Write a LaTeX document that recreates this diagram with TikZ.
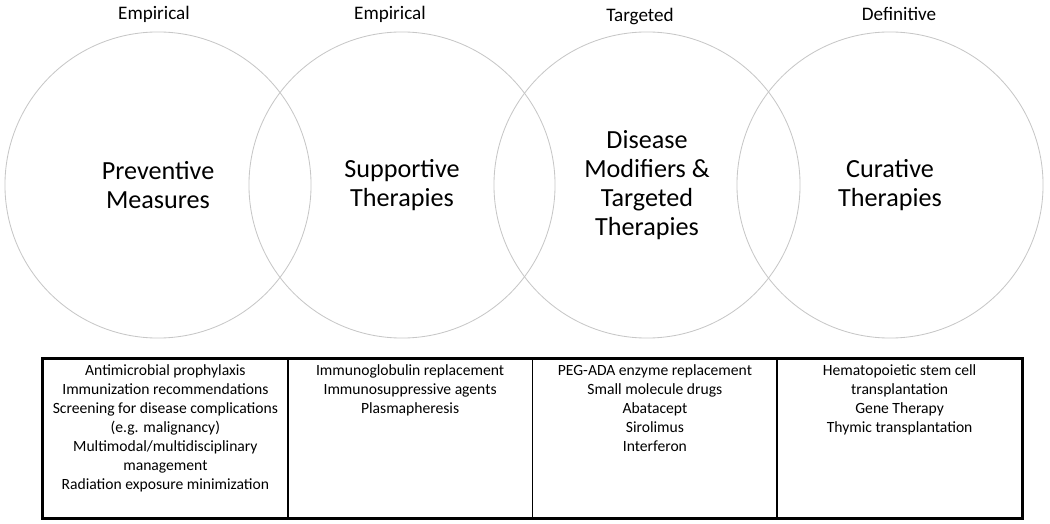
\documentclass[tikz,border=0pt]{standalone}
\usepackage{fontspec}
\setmainfont{Carlito}
\usetikzlibrary{positioning}

\begin{document}
\begin{tikzpicture}[x=0.025cm,y=-0.025cm,
    bubble/.style={circle,draw=black!22,line width=0.6pt,minimum size=7.65cm,inner sep=0pt,align=center,font=\fontsize{18.6}{20.8}\selectfont},
    tag/.style={font=\fontsize{13.6}{16}\selectfont},
    cell/.style={draw,line width=1pt,minimum width=6.119cm,minimum height=3.975cm,inner sep=0pt},
    item/.style={align=center,inner sep=0pt,font=\fontsize{11.1}{13.5}\selectfont}]
    \useasboundingbox (0,0) rectangle (1050,524);
    % circles
    \node[bubble] (prev) at (158,185) {Preventive\\Measures};
    \node[bubble] (supp) at (402,185) {Supportive\\Therapies};
    \node[bubble] (targ) at (647,185) {Disease\\Modifiers \&\\Targeted\\Therapies};
    \node[bubble] (cure) at (890,185) {Curative\\Therapies};
    \node[tag] (tprev) at (154,14) {Empirical};
    \node[tag] (tsupp) at (390,14) {Empirical};
    \node[tag] (ttarg) at (640,17) {Targeted};
    \node[tag] (tcure) at (899,14) {Definitive};
    % table
    \node[cell] (c1) at (165.4,438.5) {};
    \node[cell] (c2) at (410.1,438.5) {};
    \node[cell] (c3) at (654.9,438.5) {};
    \node[cell] (c4) at (899.6,438.5) {};
    \draw[line width=2pt] (c1.north west) rectangle (c4.south east);
    \node[item,below=4.5pt of c1.north] (l1) {Antimicrobial prophylaxis\\Immunization recommendations\\Screening for disease complications\\(e.g. malignancy)\\Multimodal/multidisciplinary\\management\\Radiation exposure minimization};
    \node[item,below=4.5pt of c2.north] (l2) {Immunoglobulin replacement\\Immunosuppressive agents\\Plasmapheresis};
    \node[item,below=4.5pt of c3.north] (l3) {PEG-ADA enzyme replacement\\Small molecule drugs\\Abatacept\\Sirolimus\\Interferon};
    \node[item,below=4.5pt of c4.north] (l4) {Hematopoietic stem cell\\transplantation\\Gene Therapy\\Thymic transplantation};
\end{tikzpicture}
\end{document}
